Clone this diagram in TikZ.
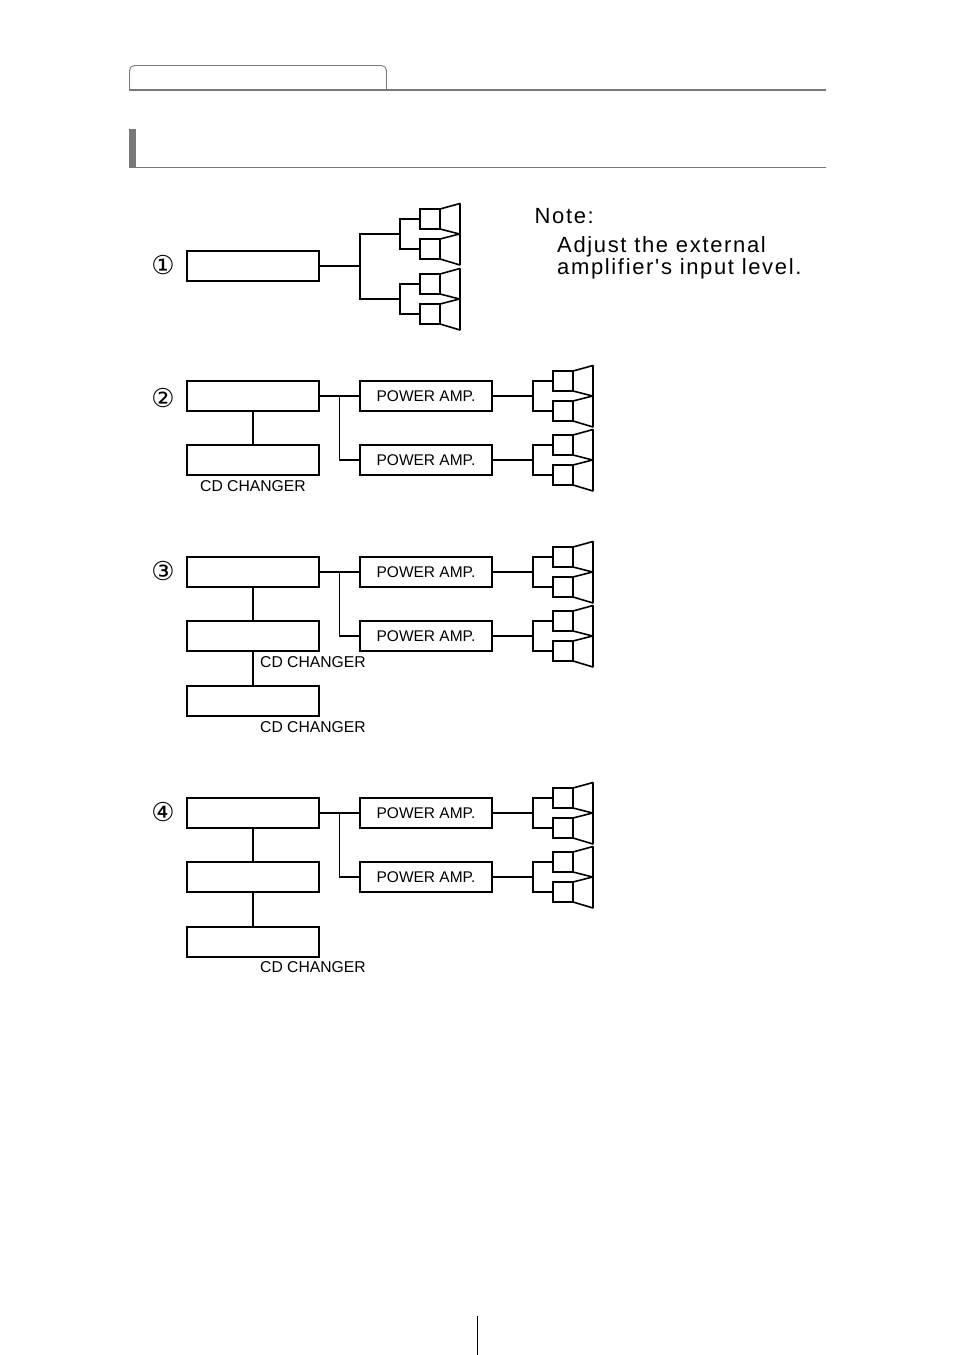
\documentclass[tikz,border=0pt]{standalone}
\usepackage{fontspec}
\setmainfont{Liberation Sans}
\newfontfamily\notefont[LetterSpace=7.5]{Liberation Sans}
\newfontfamily\markfont{DejaVu Sans}
\definecolor{rulegray}{gray}{0.47}
\tikzset{
  x=1pt,y=-1pt,
  wire/.style={line width=1.4pt,line join=miter},
  unitbox/.style={draw,wire,minimum width=132pt,minimum height=30pt,inner sep=0pt,outer sep=0pt},
  lbl/.style={font=\fontsize{15.7}{16}\selectfont,inner sep=0pt,anchor=base},
  numlabel/.style={font=\fontsize{26}{27}\markfont,inner sep=0pt},
  notetext/.style={font=\fontsize{22}{23}\notefont,inner sep=0pt,anchor=base west},
  spkpair/.pic={
    \coordinate (-in) at (0,0);
    \draw[wire] (20,-15) -- (0,-15) -- (0,15) -- (20,15);
    \draw[wire] (20,-25) rectangle (40,-5);
    \draw[wire] (20,5) rectangle (40,25);
    \draw[wire,line width=1.6pt,line join=bevel] (40,-25) -- (60,-30.5) -- (60,31) -- (40,25);
    \draw[wire,line width=1.6pt,line join=bevel] (40,-5) -- (59.5,0) -- (40,5);
  }
}
\begin{document}
\begin{tikzpicture}
  \useasboundingbox (0,0) rectangle (954,1355);

  % page furniture
  \draw[rulegray,line width=0.9pt,rounded corners=5pt] (129.5,90) -- (129.5,65.5) -- (386.5,65.5) -- (386.5,90);
  \draw[rulegray,line width=1.6pt] (129,90) -- (826,90);
  \fill[rulegray] (129,129) rectangle (136,168);
  \draw[rulegray,line width=0.9pt] (129,167.5) -- (826,167.5);
  \draw[line width=0.9pt] (477.5,1316) -- (477.5,1355);

  \def \Boxes {
    h1/253/266/2,
    h2/253/396/1.4,
    c2/253/460/1.4,
    h3/253/572/1.4,
    c3/253/636/1.4,
    d3/253/701/1.4,
    h4/253/813/1.4,
    c4/253/877/1.4,
    d4/253/942/1.4}
  \def \Amps {
    a2/396/1.4,
    b2/460/1.4,
    a3/572/1.4,
    b3/636/2,
    a4/813/1.4,
    b4/877/1.4}
  \def \Marks {
    1/①/265.5,
    2/②/398.5,
    3/③/571.5,
    4/④/812.5}
  \def \Changers {
    t2/253/491,
    t3/313/667,
    u3/313/732,
    t4/313/972}

  \foreach \id / \x / \y / \w in \Boxes {
    \node[unitbox,line width=\w pt] (\id) at (\x, \y) {};
  }
  \foreach \id / \y / \w in \Amps {
    \node[unitbox,line width=\w pt] (\id) at (426, \y) {\fontsize{15.5}{16}\selectfont POWER AMP.};
    \pic (s\id) at (533, \y) {spkpair};
    \draw[wire] (\id.east) -- (s\id-in);
  }
  \foreach \id / \txt / \y in \Marks {
    \node[numlabel] (m\id) at (163, \y) {\txt};
  }
  \foreach \id / \x / \y in \Changers {
    \node[lbl] (\id) at (\x, \y) {CD CHANGER};
  }

  % first system has no amplifiers
  \pic (s1a) at (400, 234) {spkpair};
  \pic (s1b) at (400, 299) {spkpair};
  \coordinate (j1) at (360, 266);
  \draw[wire] (h1.east) -- (j1);
  \draw[wire] (s1a-in) -| (j1) |- (s1b-in);

  % head unit to the two amplifiers
  \coordinate (j2) at (339.5, 396);
  \coordinate (j3) at (339.5, 572);
  \coordinate (j4) at (339.5, 813);
  \foreach \n in {2,3,4} {
    \draw[wire] (h\n.east) -- (a\n.west);
    \draw[wire] (j\n) |- (b\n.west);
  }

  % chains below the head units
  \draw[wire] (h2) -- (c2);
  \draw[wire] (h3) -- (c3);
  \draw[wire] (c3) -- (d3);
  \draw[wire] (h4) -- (c4);
  \draw[wire] (c4) -- (d4);

  \node[notetext] (note) at (534.5, 223.5) {Note:};
  \node[notetext] (adj) at (557, 252) {Adjust the external};
  \node[notetext] (lev) at (557, 274) {amplifier's input level.};
\end{tikzpicture}
\end{document}
